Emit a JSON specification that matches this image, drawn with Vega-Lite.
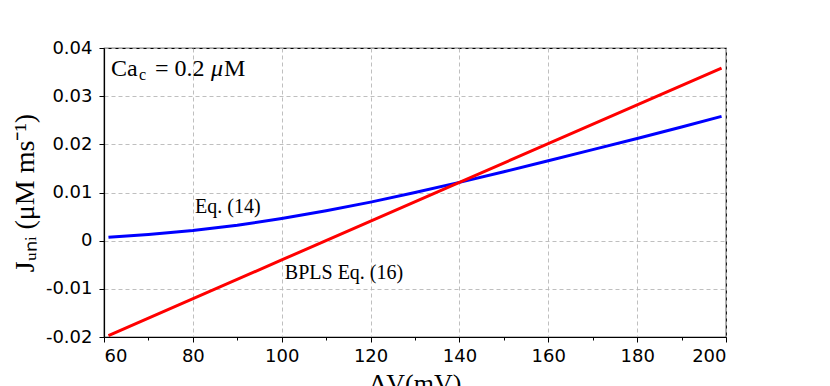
{
  "$schema": "https://vega.github.io/schema/vega-lite/v6.json",
  "width": 622,
  "height": 289,
  "autosize": {"type": "none"},
  "padding": {"left": 104, "top": 48, "right": 104, "bottom": 49},
  "background": "white",
  "config": {
    "view": {"stroke": "black", "strokeWidth": 1.2},
    "axis": {
      "domainColor": "black",
      "domainWidth": 1.2,
      "tickColor": "black",
      "tickWidth": 1,
      "labelFont": "DejaVu Sans",
      "labelFontSize": 18,
      "labelColor": "black",
      "gridColor": "#b8b8b8",
      "gridDash": [4, 3],
      "gridWidth": 0.9,
      "titleFont": "Liberation Serif",
      "titleFontWeight": "normal",
      "titleColor": "black"
    }
  },
  "datasets": {
    "eq14": [
      {"dV": 61, "J": 0.0007},
      {"dV": 70, "J": 0.0013},
      {"dV": 80, "J": 0.0021},
      {"dV": 90, "J": 0.0032},
      {"dV": 100, "J": 0.0046},
      {"dV": 110, "J": 0.0062},
      {"dV": 120, "J": 0.0080},
      {"dV": 130, "J": 0.0100},
      {"dV": 140, "J": 0.0121},
      {"dV": 150, "J": 0.0143},
      {"dV": 160, "J": 0.0166},
      {"dV": 170, "J": 0.0189},
      {"dV": 180, "J": 0.0212},
      {"dV": 190, "J": 0.0236},
      {"dV": 199, "J": 0.0258}
    ],
    "eq16": [
      {"dV": 61, "J": -0.0197},
      {"dV": 100, "J": -0.0040},
      {"dV": 140, "J": 0.0121},
      {"dV": 199, "J": 0.0358}
    ],
    "labels": [
      {"dV": 80.5, "J": 0.0058, "text": "Eq. (14)"},
      {"dV": 100.7, "J": -0.0080, "text": "BPLS Eq. (16)"}
    ],
    "ca": [
      {"dV": 61.58, "J": 0.0342, "part": "main", "text": "Ca"},
      {"dV": 67.9, "J": 0.0334, "part": "sub", "text": "c"},
      {"dV": 71.48, "J": 0.0342, "part": "main", "text": "= 0.2"},
      {"dV": 84.08, "J": 0.0342, "part": "ital", "text": "μ"},
      {"dV": 87.01, "J": 0.0342, "part": "main", "text": "M"}
    ]
  },
  "layer": [
    {
      "data": {"name": "eq14"},
      "mark": {"type": "line", "color": "#0000ff", "strokeWidth": 3, "clip": true},
      "encoding": {
        "x": {
          "field": "dV",
          "type": "quantitative",
          "scale": {"domain": [60, 200], "nice": false, "zero": false},
          "axis": {
            "values": [60, 70, 80, 90, 100, 110, 120, 130, 140, 150, 160, 170, 180, 190, 200],
            "labelExpr": "datum.value % 20 === 0 ? datum.label : ''",
            "labelPadding": 5,
            "tickSize": {"condition": {"test": "datum.value % 20 === 0", "value": 5}, "value": 3},
            "gridOpacity": {"condition": {"test": "datum.value % 20 === 0", "value": 1}, "value": 0},
            "title": "ΔV(mV)",
            "titleFontSize": 26,
            "titlePadding": 5
          }
        },
        "y": {
          "field": "J",
          "type": "quantitative",
          "scale": {"domain": [-0.02, 0.04], "nice": false, "zero": false},
          "axis": {
            "values": [-0.02, -0.015, -0.01, -0.005, 0, 0.005, 0.01, 0.015, 0.02, 0.025, 0.03, 0.035, 0.04],
            "labelExpr": "indexof([-0.02, -0.01, 0, 0.01, 0.02, 0.03, 0.04], datum.value) >= 0 ? toString(datum.value) : ''",
            "labelPadding": 7,
            "tickSize": {"condition": {"test": "indexof([-0.02, -0.01, 0, 0.01, 0.02, 0.03, 0.04], datum.value) >= 0", "value": 5}, "value": 3},
            "gridOpacity": {"condition": {"test": "indexof([-0.02, -0.01, 0, 0.01, 0.02, 0.03, 0.04], datum.value) >= 0", "value": 1}, "value": 0},
            "title": "Jᵤₙᵢ (μM ms⁻¹)",
            "titleFontSize": 28,
            "titlePadding": 6
          }
        }
      }
    },
    {
      "data": {"name": "eq16"},
      "mark": {"type": "line", "color": "#ff0000", "strokeWidth": 3, "clip": true},
      "encoding": {
        "x": {"field": "dV", "type": "quantitative"},
        "y": {"field": "J", "type": "quantitative"}
      }
    },
    {
      "data": {"name": "labels"},
      "mark": {"type": "text", "font": "Liberation Serif", "fontSize": 20, "align": "left", "baseline": "alphabetic", "color": "black"},
      "encoding": {
        "x": {"field": "dV", "type": "quantitative"},
        "y": {"field": "J", "type": "quantitative"},
        "text": {"field": "text"}
      }
    },
    {
      "data": {"name": "ca"},
      "transform": [{"filter": "datum.part === 'main'"}],
      "mark": {"type": "text", "font": "Liberation Serif", "fontSize": 24, "align": "left", "baseline": "alphabetic", "color": "black"},
      "encoding": {
        "x": {"field": "dV", "type": "quantitative"},
        "y": {"field": "J", "type": "quantitative"},
        "text": {"field": "text"}
      }
    },
    {
      "data": {"name": "ca"},
      "transform": [{"filter": "datum.part === 'sub'"}],
      "mark": {"type": "text", "font": "Liberation Serif", "fontSize": 16, "align": "left", "baseline": "alphabetic", "color": "black"},
      "encoding": {
        "x": {"field": "dV", "type": "quantitative"},
        "y": {"field": "J", "type": "quantitative"},
        "text": {"field": "text"}
      }
    },
    {
      "data": {"name": "ca"},
      "transform": [{"filter": "datum.part === 'ital'"}],
      "mark": {"type": "text", "font": "Liberation Serif", "fontSize": 24, "fontStyle": "italic", "align": "left", "baseline": "alphabetic", "color": "black"},
      "encoding": {
        "x": {"field": "dV", "type": "quantitative"},
        "y": {"field": "J", "type": "quantitative"},
        "text": {"field": "text"}
      }
    }
  ]
}
